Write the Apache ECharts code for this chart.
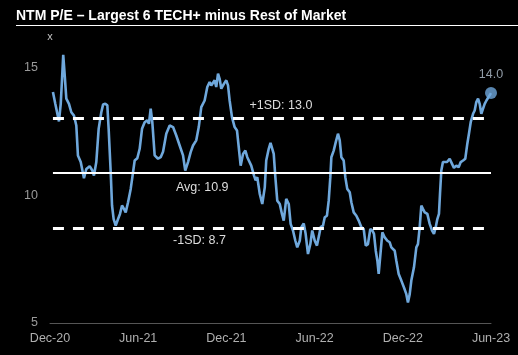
<!DOCTYPE html>
<html>
<head>
<meta charset="utf-8">
<script src="https://cdn.jsdelivr.net/npm/echarts@6/dist/echarts.min.js"></script>
<style>
html,body{margin:0;padding:0;background:#000;}
#chart{width:518px;height:355px;}
</style>
</head>
<body>
<div id="chart"></div>
<script>
// ---- Data (x in months since Dec-20) ----
const xMonths = [0.20,0.36,0.61,0.73,0.82,0.90,1.00,1.11,1.29,1.45,1.63,1.79,1.90,2.09,2.31,2.47,2.70,2.88,2.99,3.15,3.31,3.49,3.61,3.76,3.90,3.99,4.13,4.22,4.33,4.47,4.63,4.76,4.90,5.03,5.15,5.31,5.49,5.65,5.76,5.94,6.10,6.26,6.44,6.62,6.73,6.85,6.96,7.12,7.35,7.53,7.69,7.91,8.14,8.37,8.59,8.82,9.05,9.20,9.39,9.57,9.73,9.95,10.12,10.29,10.52,10.70,10.86,10.97,11.09,11.20,11.31,11.43,11.54,11.65,11.84,11.99,12.11,12.22,12.38,12.56,12.72,12.84,12.97,13.13,13.29,13.42,13.52,13.69,13.88,13.99,14.10,14.27,14.44,14.61,14.71,14.88,15.00,15.22,15.33,15.46,15.63,15.78,15.90,16.07,16.24,16.37,16.53,16.69,16.82,16.99,17.10,17.26,17.39,17.55,17.71,17.84,18.01,18.16,18.30,18.41,18.57,18.69,18.84,18.96,19.07,19.14,19.30,19.44,19.59,19.71,19.82,19.98,20.09,20.22,20.39,20.50,20.66,20.84,21.00,21.18,21.34,21.48,21.63,21.79,21.93,22.04,22.16,22.27,22.36,22.50,22.61,22.77,22.95,23.11,23.22,23.33,23.45,23.56,23.72,23.90,24.08,24.24,24.35,24.47,24.58,24.76,24.92,25.03,25.15,25.26,25.37,25.49,25.67,25.83,25.99,26.12,26.24,26.35,26.46,26.53,26.62,26.73,26.85,27.01,27.19,27.35,27.48,27.64,27.80,27.94,28.10,28.25,28.39,28.50,28.62,28.78,28.89,29.00,29.12,29.23,29.34,29.46,29.57,29.69,29.80,30.00];
const peValues = [14.04,13.58,12.89,13.58,14.56,15.50,14.70,13.78,13.58,13.25,13.12,12.73,11.56,11.30,10.67,11.03,11.14,10.97,10.77,11.30,12.60,13.25,13.55,13.58,13.52,12.60,10.90,9.60,9.07,8.81,9.07,9.27,9.60,9.47,9.33,9.73,10.25,10.90,11.36,11.45,11.82,12.60,12.86,12.93,12.80,13.39,12.86,11.56,11.43,11.49,11.70,12.41,12.73,12.67,12.34,11.95,11.56,10.97,11.30,11.69,11.95,12.15,12.67,13.45,13.71,14.24,14.43,14.30,14.24,14.50,14.24,14.76,14.56,14.17,14.37,14.50,14.30,13.71,13.06,12.67,12.54,11.88,11.16,11.62,11.75,11.49,11.49,11.16,10.77,10.58,10.71,10.05,9.66,10.31,11.36,11.82,12.05,11.62,10.71,9.79,9.66,9.27,9.01,9.86,9.66,8.88,8.62,8.22,7.96,8.22,8.75,8.90,8.49,7.70,8.09,8.62,8.22,8.03,8.42,8.75,8.81,9.14,9.20,9.79,10.71,11.49,11.75,12.08,12.41,12.15,11.49,11.36,10.71,10.25,10.12,9.73,9.33,9.20,9.01,8.75,8.68,8.03,8.09,8.68,8.62,8.49,7.83,7.44,6.92,7.83,8.55,8.35,8.22,8.16,7.96,7.90,7.83,7.44,6.92,6.66,6.39,6.13,5.80,6.13,6.66,7.18,7.96,8.09,8.75,9.60,9.47,9.33,9.27,8.88,8.62,8.49,8.75,9.07,9.27,10.05,10.97,11.30,11.36,11.30,11.43,11.23,11.07,11.16,11.10,11.30,11.36,11.43,12.02,12.41,12.86,13.19,13.32,13.65,13.78,13.58,13.19,13.12,13.58,13.71,13.78,14.00];
const xTickLabels = ['Dec-20','Jun-21','Dec-21','Jun-22','Dec-22','Jun-23'];
const yTickValues = [5, 10, 15];
const avgValue = 10.9;
const plus1SD = 13.0;
const minus1SD = 8.7;

const chart = echarts.init(document.getElementById('chart'), null, {renderer: 'canvas'});
const FONT = "'Liberation Sans', Arial, Helvetica, sans-serif";
const LINE_COLOR = '#6fa8dc';
const dashStyle = {color: '#ffffff', width: 3, type: [11, 9]};
const xFirst = xMonths[0], xLast = xMonths[xMonths.length - 1];

const option = {
  backgroundColor: '#000000',
  animation: false,
  title: {
    text: 'NTM P/E \u2013 Largest 6 TECH+ minus Rest of Market',
    left: 11, top: 4,
    textStyle: {color: '#ffffff', fontSize: 14, fontWeight: 'bold', fontFamily: FONT}
  },
  graphic: [{
    type: 'line', silent: true,
    shape: {x1: 16, y1: 25.5, x2: 518, y2: 25.5},
    style: {stroke: '#ffffff', lineWidth: 1}
  }],
  grid: {left: 50, right: 27, top: 42, bottom: 32, containLabel: false},
  xAxis: {
    type: 'value', min: 0, max: 30, interval: 6,
    axisLine: {show: true, lineStyle: {color: '#555555', width: 1}},
    axisTick: {show: false},
    splitLine: {show: false},
    axisLabel: {
      color: '#b0b0b0', fontSize: 12.5, fontFamily: FONT, margin: 9,
      formatter: v => xTickLabels[Math.round(v / 6)] || ''
    }
  },
  yAxis: {
    type: 'value', min: 5, max: 16, interval: 5,
    name: 'x', nameLocation: 'end', nameGap: 5,
    nameTextStyle: {color: '#c0c0c0', fontSize: 11, fontFamily: FONT, align: 'center', verticalAlign: 'middle'},
    axisLine: {show: false}, axisTick: {show: false}, splitLine: {show: false},
    axisLabel: {
      color: '#9a9a9a', fontSize: 12.5, fontFamily: FONT, margin: 12,
      formatter: v => yTickValues.indexOf(v) >= 0 ? String(v) : ''
    }
  },
  series: [{
    type: 'line',
    data: xMonths.map((x, i) => [x, peValues[i]]),
    showSymbol: false,
    smooth: false,
    lineStyle: {color: LINE_COLOR, width: 2.6},
    z: 3,
    markLine: {
      silent: true, symbol: 'none',
      label: {show: false},
      data: [
        [{coord: [xFirst, plus1SD], lineStyle: dashStyle}, {coord: [xLast, plus1SD]}],
        [{coord: [xFirst, avgValue], lineStyle: {color: '#ffffff', width: 2, type: 'solid'}}, {coord: [xLast, avgValue]}],
        [{coord: [xFirst, minus1SD], lineStyle: dashStyle}, {coord: [xLast, minus1SD]}]
      ]
    },
    markPoint: {
      silent: true, symbol: 'circle', symbolSize: 0,
      data: [
        {coord: [15.71, 13.52], label: {show: true, position: 'inside', formatter: '+1SD: ' + plus1SD.toFixed(1), color: '#dddddd', fontSize: 12.5, fontFamily: FONT}},
        {coord: [8.57, 10.31], label: {show: true, position: 'right', distance: 0, formatter: 'Avg: ' + avgValue.toFixed(1), color: '#dddddd', fontSize: 12.5, fontFamily: FONT}},
        {coord: [8.37, 8.22], label: {show: true, position: 'right', distance: 0, formatter: '-1SD: ' + minus1SD.toFixed(1), color: '#dddddd', fontSize: 12.5, fontFamily: FONT}}
      ]
    }
  }, {
    type: 'scatter',
    data: [[xMonths[xMonths.length - 1], peValues[peValues.length - 1]]],
    symbol: 'circle', symbolSize: 12,
    itemStyle: {color: LINE_COLOR},
    z: 4,
    label: {
      show: true, position: 'top', distance: 6,
      formatter: p => p.value[1].toFixed(1),
      color: '#b4c2d0', fontSize: 12.5, fontFamily: FONT
    }
  }]
};
chart.setOption(option);
</script>
</body>
</html>
